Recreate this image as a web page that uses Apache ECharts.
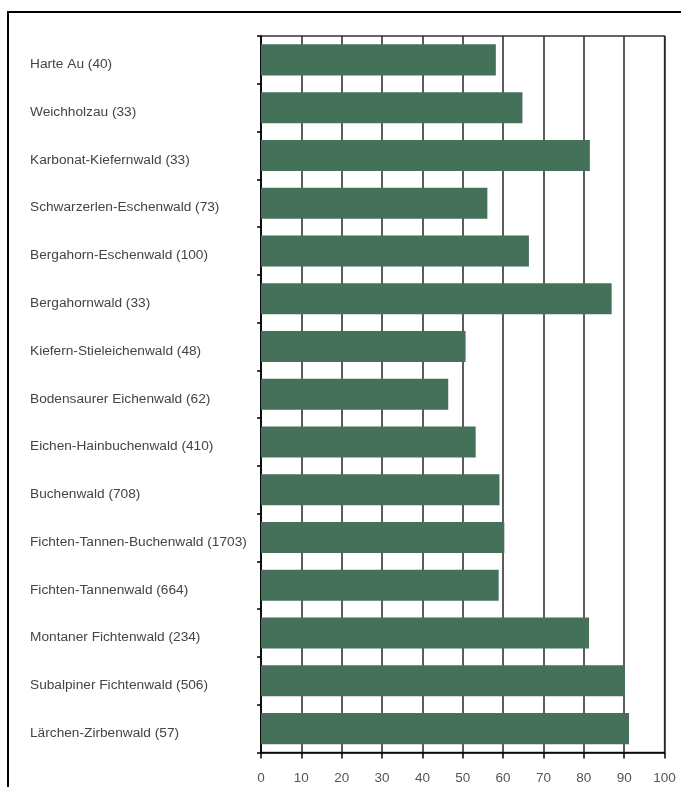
<!DOCTYPE html>
<html>
<head>
<meta charset="utf-8">
<script src="https://cdn.jsdelivr.net/npm/echarts@6/dist/echarts.min.js"></script>
<style>
  html, body { margin: 0; padding: 0; background: #fff; }
  #chart { width: 681px; height: 787px; }
</style>
</head>
<body>
<div id="chart"></div>
<script>
// Waldtypen (Anzahl Flächen in Klammern)
var categories = [
  'Harte Au (40)',
  'Weichholzau (33)',
  'Karbonat-Kiefernwald (33)',
  'Schwarzerlen-Eschenwald (73)',
  'Bergahorn-Eschenwald (100)',
  'Bergahornwald (33)',
  'Kiefern-Stieleichenwald (48)',
  'Bodensaurer Eichenwald (62)',
  'Eichen-Hainbuchenwald (410)',
  'Buchenwald (708)',
  'Fichten-Tannen-Buchenwald (1703)',
  'Fichten-Tannenwald (664)',
  'Montaner Fichtenwald (234)',
  'Subalpiner Fichtenwald (506)',
  'Lärchen-Zirbenwald (57)'
];
var values = [58.2, 64.8, 81.5, 56.1, 66.4, 86.9, 50.7, 46.4, 53.2, 59.1, 60.3, 58.9, 81.3, 90.2, 91.2];
var xTicks = [0, 10, 20, 30, 40, 50, 60, 70, 80, 90, 100];

var myChart = echarts.init(document.getElementById('chart'));

var option = {
  animation: false,
  backgroundColor: '#fff',
  // äußerer Rahmen
  graphic: [{
    type: 'rect',
    shape: { x: 8, y: 12, width: 720, height: 820 },
    style: { fill: 'none', stroke: '#000', lineWidth: 2 },
    silent: true
  }],
  grid: {
    left: 261,
    right: 16.5,
    top: 36,
    bottom: 34.5,
    show: true,
    borderColor: '#333',
    borderWidth: 1.3
  },
  xAxis: {
    type: 'value',
    min: xTicks[0],
    max: xTicks[xTicks.length - 1],
    interval: 10,
    axisLine: { show: true, lineStyle: { color: '#000', width: 1.5 } },
    axisTick: { show: true, length: 6, lineStyle: { color: '#000', width: 1.5 } },
    axisLabel: {
      margin: 18.5,
      color: '#555',
      fontSize: 13.5,
      fontFamily: 'Liberation Sans',
      formatter: function (v) { return xTicks.indexOf(v) >= 0 ? String(v) : ''; }
    },
    splitLine: { show: true, lineStyle: { color: '#262626', width: 1.5 } }
  },
  yAxis: {
    type: 'category',
    inverse: true,
    data: categories,
    axisLine: { show: true, lineStyle: { color: '#000', width: 1.5 } },
    axisTick: { show: true, length: 4, lineStyle: { color: '#000', width: 1.5 } },
    axisLabel: {
      align: 'left',
      margin: 231,
      formatter: function (v) { return '{t|' + v + '}'; },
      rich: {
        t: {
          color: '#444',
          fontSize: 13.7,
          fontFamily: 'Liberation Sans',
          padding: [9, 0, 0, 0]
        }
      }
    },
    splitLine: { show: false }
  },
  series: [{
    type: 'bar',
    data: values,
    barCategoryGap: '35%',
    itemStyle: { color: '#45705A' },
    z: 3
  }]
};

myChart.setOption(option);
</script>
</body>
</html>
